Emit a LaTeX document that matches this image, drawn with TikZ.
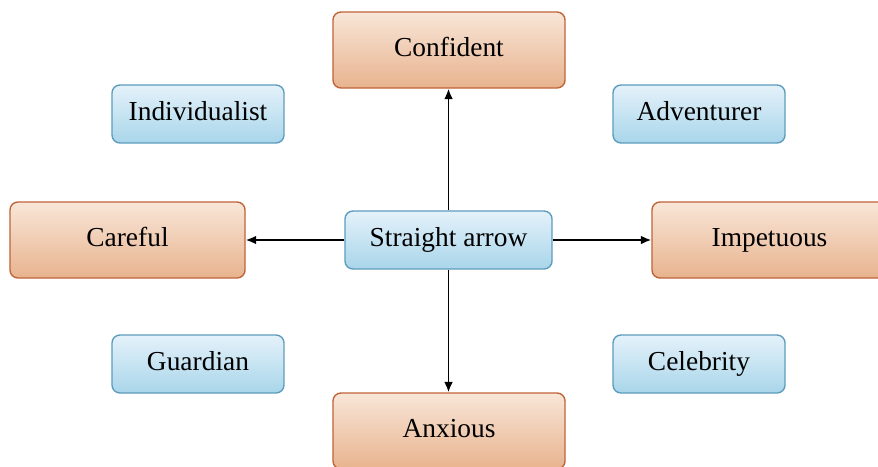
\documentclass[tikz,border=0pt]{standalone}
\usepackage{fontspec}
\setmainfont{Liberation Serif}
\usepackage{tikz}
\usetikzlibrary{arrows,arrows.meta,positioning,calc}

\definecolor{orTop}{HTML}{F8E6D8}
\definecolor{orBot}{HTML}{E8B38E}
\definecolor{orLine}{HTML}{C0643A}
\definecolor{blTop}{HTML}{E4F2FA}
\definecolor{blBot}{HTML}{A9D5EA}
\definecolor{blLine}{HTML}{5E9DBD}

\begin{document}
\begin{tikzpicture}[x=0.025cm,y=-0.025cm]
        \tikzstyle{every node}=[font=\fontsize{19.5}{23}\selectfont,text height=13.5pt,text depth=4.3pt]
        \tikzstyle{trait}=[draw=orLine,line width=1pt,rounded corners=0.2cm,top color=orTop,bottom color=orBot,minimum width=5.8cm,minimum height=1.9cm]
        \tikzstyle{kind}=[draw=blLine,line width=1pt,rounded corners=0.2cm,top color=blTop,bottom color=blBot,minimum width=4.3cm,minimum height=1.45cm]
        \tikzstyle{link}=[-{Latex[length=2.6mm,width=2.2mm]},line width=1.3pt]
        \clip (0,0) rectangle (878,466);
        \useasboundingbox (0,0) rectangle (878,466);

        %%% Traits
        \node[trait] (conf) at (449,50) {Confident};
        \node[trait,minimum width=5.875cm] (careful) at (127.5,240) {Careful};
        \node[trait,minimum width=5.875cm] (impet) at (769.5,240) {Impetuous};
        \node[trait] (anx) at (449,431) {Anxious};

        %%% Kinds
        \node[kind] (indiv) at (198,114) {Individualist};
        \node[kind] (adv) at (699,114) {Adventurer};
        \node[kind] (guard) at (198,364) {Guardian};
        \node[kind] (celeb) at (699,364) {Celebrity};
        \node[kind,minimum width=5.175cm] (sa) at (448.5,240) {Straight arrow};

        \draw[link] (sa.north) -- (sa.north |- conf.south);
        \draw[link] (sa.south) -- (sa.south |- anx.north);
        \draw[link] (sa) edge (careful);
        \draw[link] (sa) edge (impet);
    \end{tikzpicture}
\end{document}
